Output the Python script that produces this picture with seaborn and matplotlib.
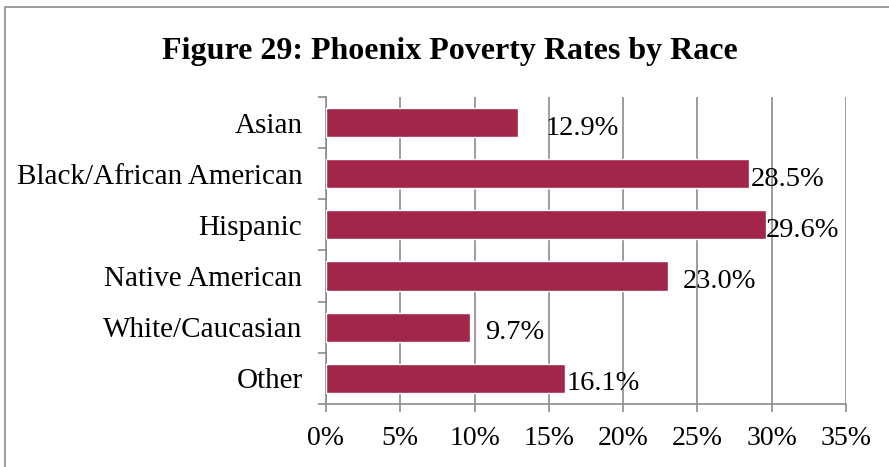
import matplotlib
matplotlib.use('Agg')
import matplotlib.pyplot as plt
import matplotlib.patches as mpatches
from matplotlib.ticker import FixedLocator
import seaborn as sns
import pandas as pd

# data
races = ['Asian', 'Black/African American', 'Hispanic', 'Native American',
         'White/Caucasian', 'Other']
rates = [12.9, 28.5, 29.6, 23.0, 9.7, 16.1]
xticks = [0, 5, 10, 15, 20, 25, 30, 35]

# label offsets (points) to mimic the Excel placement
label_pads = [20, 1, 0, 11, 11, 1]

df = pd.DataFrame({'race': races, 'rate': rates})

sns.set_style('white')
plt.rcParams['font.family'] = ['Liberation Serif', 'DejaVu Serif']
plt.rcParams['text.color'] = 'black'
plt.rcParams['xtick.color'] = 'black'
plt.rcParams['ytick.color'] = 'black'

fig = plt.figure(figsize=(8.89, 4.67), dpi=100)
ax = fig.add_axes([0.3667, 0.1349, 0.5849, 0.6574])

sns.barplot(data=df, x='rate', y='race', orient='h', color='#A22649',
            width=0.57, saturation=1, ax=ax, zorder=3)

ax.set_xlim(0, 35)
ax.set_ylim(5.5, -0.5)
ax.set_xticks(xticks)
ax.set_xticklabels([f'{t}%' for t in xticks])
ax.set_xlabel('')
ax.set_ylabel('')

grid_c = '#8c8c8c'
ax.grid(axis='x', color=grid_c, linewidth=1.2, zorder=0)
ax.grid(axis='y', visible=False)
for s in ['top', 'right']:
    ax.spines[s].set_visible(False)
for s in ['left', 'bottom']:
    ax.spines[s].set_color(grid_c)
    ax.spines[s].set_linewidth(1.2)

ax.tick_params(axis='x', length=6, width=1.2, color=grid_c, labelsize=20,
               labelcolor='black', pad=10, direction='out', bottom=True)
ax.tick_params(axis='y', which='major', length=0, labelsize=21,
               labelcolor='black', pad=17)
ax.yaxis.set_minor_locator(FixedLocator([i - 0.5 for i in range(len(races) + 1)]))
ax.tick_params(axis='y', which='minor', length=6, width=1.2, color=grid_c,
               direction='out', left=True)

for i, v in enumerate(rates):
    ax.annotate(f'{v:.1f}%', xy=(v, i), xytext=(label_pads[i], -4),
                textcoords='offset points', va='center', ha='left',
                fontsize=20.5, color='black', zorder=4)

fig.text(0.506, 0.89, 'Figure 29: Phoenix Poverty Rates by Race',
         ha='center', va='center', fontsize=23, fontweight='bold',
         color='black')

border = mpatches.Rectangle((5 / 889, -0.1), 1.2, 1.1 - 7 / 467,
                            transform=fig.transFigure, fill=False,
                            edgecolor=grid_c, linewidth=1.2)
fig.patches.append(border)

fig.savefig('out.png', dpi=100)
